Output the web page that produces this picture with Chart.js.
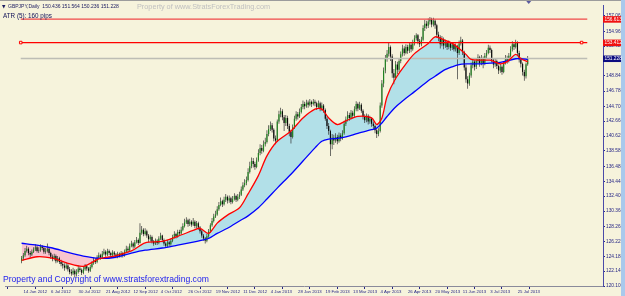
<!DOCTYPE html>
<html>
<head>
<meta charset="UTF-8">
<title>GBPJPY Daily</title>
<script src="https://cdn.jsdelivr.net/npm/chart.js@4.4.0/dist/chart.umd.min.js"></script>
<style>
  * { margin: 0; padding: 0; }
  body { background: #F6F3DC; width: 625px; height: 296px; overflow: hidden; }
  canvas { display: block; }
</style>
</head>
<body>
<canvas id="chart" width="625" height="296"></canvas>
<script>
// GBPJPY daily, one bar per trading day from 14 Jun 2012
const opens = [
  123.50,123.90,124.30,124.90,125.20,124.60,124.40,124.80,125.10,125.40,
  124.90,125.00,125.50,125.30,124.80,124.90,125.20,124.60,124.10,123.80,
  124.20,123.50,123.90,123.40,123.10,122.90,122.60,122.90,122.40,122.00,
  121.80,122.20,121.70,122.00,122.50,122.30,121.90,122.40,122.80,122.50,
  122.20,122.70,123.20,123.60,123.40,124.00,124.30,124.00,124.50,124.80,
  124.40,124.90,124.60,124.30,124.70,124.40,124.10,124.50,124.20,124.60,
  124.30,124.80,125.20,125.00,125.60,125.90,125.50,126.10,126.40,126.00,
  127.40,127.80,127.20,127.60,127.00,126.50,126.80,126.20,125.90,126.30,
  126.00,126.60,127.00,126.40,125.90,125.60,126.10,125.80,126.30,126.80,
  127.20,126.90,127.50,127.30,127.80,128.30,128.80,129.10,128.60,128.90,
  128.50,128.90,128.30,128.70,128.10,127.60,127.00,126.60,126.30,126.90,
  127.60,128.40,129.00,129.60,129.90,130.60,131.20,131.70,131.30,131.90,
  132.30,131.80,132.10,131.60,132.00,132.40,131.90,132.30,132.60,133.30,
  133.90,134.20,134.60,135.70,136.50,137.20,136.80,136.40,137.30,138.30,
  139.00,138.60,139.50,139.80,140.90,141.60,142.10,141.50,140.30,140.00,
  142.60,143.60,144.00,143.20,142.40,143.10,142.00,141.20,140.50,141.80,
  143.00,143.60,143.30,143.90,144.60,145.00,144.70,145.20,144.90,145.30,
  145.00,145.30,145.10,144.60,145.10,144.40,144.80,144.20,143.00,142.00,
  141.30,139.50,140.40,140.00,140.50,139.90,140.70,140.30,141.00,142.30,
  142.90,143.50,143.10,143.80,143.40,144.30,145.00,144.40,144.90,144.10,
  143.30,142.80,143.40,142.60,143.00,142.30,142.00,141.40,140.90,141.30,
  144.80,147.80,149.60,151.20,151.90,152.80,151.50,149.20,148.60,150.40,
  149.70,150.90,151.80,152.60,152.00,152.80,152.30,153.10,152.50,153.30,
  154.00,154.40,153.60,153.20,153.80,155.40,156.00,155.70,156.30,156.60,
  155.90,156.40,155.80,154.50,154.10,153.20,153.90,153.00,153.40,152.80,
  153.30,152.70,153.10,152.50,152.90,152.00,153.30,153.70,152.10,150.00,
  148.40,147.80,148.90,150.30,150.80,150.10,150.90,151.40,150.60,151.30,
  150.50,151.60,152.00,152.70,152.40,151.00,150.40,150.90,150.20,149.60,
  150.10,149.40,150.60,151.30,150.90,151.60,152.50,153.20,152.80,153.40,
  152.00,151.10,150.50,149.40,148.80,150.436
];
const highs = [
  124.20,124.60,125.30,125.60,125.40,124.90,125.10,125.40,125.80,125.60,
  125.40,125.80,125.70,125.50,125.30,125.90,125.40,124.80,124.40,124.50,
  124.40,124.20,124.10,123.70,123.40,123.20,123.30,123.10,122.70,122.40,
  122.60,122.40,122.40,122.90,122.80,122.50,122.70,123.10,123.00,122.70,
  123.00,123.50,124.00,123.90,124.30,124.70,124.50,124.90,125.20,125.00,
  125.20,125.10,124.80,125.00,124.90,124.60,124.80,124.70,124.90,124.80,
  125.10,125.60,125.50,125.90,126.30,126.10,126.40,126.80,126.60,128.70,
  128.30,128.00,128.00,127.80,127.20,127.10,127.00,126.40,126.60,126.50,
  126.90,127.40,127.10,126.60,126.10,126.40,126.30,126.60,127.10,127.60,
  127.40,127.80,127.80,128.20,128.70,129.30,129.50,129.30,129.30,129.10,
  129.40,129.10,129.00,128.90,128.30,127.80,127.20,126.80,127.20,127.90,
  128.70,129.40,130.00,130.40,131.00,131.60,132.20,131.90,132.30,132.70,
  132.50,132.50,132.30,132.40,132.80,132.60,132.70,133.00,133.70,134.30,
  134.70,135.10,136.20,137.10,137.70,137.60,137.10,137.70,138.80,139.50,
  139.40,140.00,140.40,141.40,142.10,142.60,142.40,141.70,140.70,142.90,
  144.10,144.50,144.30,143.50,143.50,143.40,142.30,141.50,142.20,143.40,
  144.00,143.90,144.40,145.00,145.50,145.30,145.60,145.50,145.70,145.50,
  145.70,145.60,145.30,145.50,145.30,145.20,145.00,144.40,143.30,142.40,
  141.50,140.90,140.80,141.00,140.80,141.10,141.00,141.40,142.70,143.30,
  144.00,143.80,144.20,144.10,144.70,145.40,145.20,145.30,145.10,144.30,
  143.60,143.70,143.60,143.40,143.20,142.60,142.20,141.60,141.70,145.20,
  148.30,150.00,151.70,152.40,153.50,153.00,151.80,149.80,150.90,150.80,
  151.30,152.20,153.10,152.90,153.20,153.10,153.50,153.40,153.80,154.40,
  154.70,154.60,153.90,154.20,155.80,156.50,156.40,156.70,156.90,156.80,
  156.80,156.60,156.00,154.90,154.40,154.30,154.10,153.80,153.60,153.70,
  153.50,153.50,153.30,153.30,153.10,153.70,154.20,153.90,152.30,150.40,
  148.80,149.30,150.70,151.20,151.00,151.30,151.80,151.60,151.70,151.50,
  152.00,152.40,153.10,153.00,152.60,151.20,151.30,151.10,150.40,150.50,
  150.30,150.90,151.70,151.60,152.00,152.90,153.60,153.50,153.80,153.60,
  152.30,151.40,150.70,149.70,150.70,151.564
];
const lows = [
  123.20,123.60,124.10,124.70,124.30,124.00,124.20,124.60,124.90,124.70,
  124.60,124.80,125.00,124.50,124.50,124.70,124.30,123.80,123.50,123.60,
  123.20,123.30,123.10,122.80,122.50,122.20,122.40,122.10,121.70,121.50,
  121.60,121.30,121.40,121.80,122.00,121.60,121.70,122.20,122.20,121.90,
  122.00,122.50,123.00,123.10,123.20,123.80,123.70,123.80,124.30,124.10,
  124.20,124.30,124.00,124.10,124.10,123.90,123.90,124.00,124.00,124.00,
  124.10,124.60,124.70,124.80,125.40,125.20,125.30,125.90,125.70,125.90,
  127.10,126.90,127.00,126.70,126.10,126.20,125.90,125.60,125.70,125.70,
  125.80,126.40,126.10,125.60,125.30,125.40,125.50,125.60,126.10,126.60,
  126.60,126.70,127.00,127.10,127.60,128.10,128.60,128.20,128.30,128.20,
  128.30,128.00,128.00,127.80,127.30,126.70,126.30,125.90,126.10,126.70,
  127.40,128.20,128.80,129.40,129.70,130.40,131.00,130.90,131.10,131.60,
  131.40,131.50,131.30,131.40,131.80,131.60,131.70,132.00,132.40,133.10,
  133.60,133.90,134.40,135.50,136.20,136.30,136.00,136.20,137.10,138.00,
  138.20,138.40,139.20,139.60,140.60,141.30,141.10,139.90,139.50,139.80,
  142.30,143.20,142.80,141.30,142.00,141.60,140.60,139.60,140.30,141.60,
  142.70,142.90,143.10,143.70,144.30,144.30,144.50,144.50,144.70,144.60,
  144.80,144.70,144.20,144.40,144.00,144.10,143.80,142.70,141.60,140.80,
  137.90,138.80,139.40,139.70,139.50,139.70,139.90,140.10,140.80,142.00,
  142.60,142.70,142.90,143.00,143.20,144.00,144.00,144.20,143.80,142.90,
  142.40,142.50,142.20,142.30,141.90,141.60,141.00,140.35,140.60,141.10,
  144.50,147.30,149.20,150.80,151.50,150.90,148.60,147.70,148.30,149.10,
  149.40,150.60,151.50,151.60,151.80,151.90,152.00,152.10,152.30,153.00,
  153.70,153.20,152.80,152.90,153.60,155.00,155.30,155.40,155.90,155.50,
  155.60,155.30,154.10,153.60,152.60,152.90,152.50,152.70,152.40,152.50,
  152.30,152.40,152.20,152.20,148.40,151.70,153.00,151.70,149.60,147.90,
  147.10,147.50,148.60,149.90,149.60,149.80,150.60,150.10,150.30,149.90,
  150.30,151.30,151.80,152.00,150.70,149.90,150.10,149.80,149.10,149.30,
  149.00,149.20,150.40,150.50,150.70,151.40,152.20,152.40,152.60,151.70,
  150.70,150.00,148.90,148.20,148.50,150.236
];
const closes = [
  123.90,124.30,124.90,125.20,124.60,124.40,124.80,125.10,125.40,124.90,
  125.00,125.50,125.30,124.80,124.90,125.20,124.60,124.10,123.80,124.20,
  123.50,123.90,123.40,123.10,122.90,122.60,122.90,122.40,122.00,121.80,
  122.20,121.70,122.00,122.50,122.30,121.90,122.40,122.80,122.50,122.20,
  122.70,123.20,123.60,123.40,124.00,124.30,124.00,124.50,124.80,124.40,
  124.90,124.60,124.30,124.70,124.40,124.10,124.50,124.20,124.60,124.30,
  124.80,125.20,125.00,125.60,125.90,125.50,126.10,126.40,126.00,127.40,
  127.80,127.20,127.60,127.00,126.50,126.80,126.20,125.90,126.30,126.00,
  126.60,127.00,126.40,125.90,125.60,126.10,125.80,126.30,126.80,127.20,
  126.90,127.50,127.30,127.80,128.30,128.80,129.10,128.60,128.90,128.50,
  128.90,128.30,128.70,128.10,127.60,127.00,126.60,126.30,126.90,127.60,
  128.40,129.00,129.60,129.90,130.60,131.20,131.70,131.30,131.90,132.30,
  131.80,132.10,131.60,132.00,132.40,131.90,132.30,132.60,133.30,133.90,
  134.20,134.60,135.70,136.50,137.20,136.80,136.40,137.30,138.30,139.00,
  138.60,139.50,139.80,140.90,141.60,142.10,141.50,140.30,140.00,142.60,
  143.60,144.00,143.20,142.40,143.10,142.00,141.20,140.50,141.80,143.00,
  143.60,143.30,143.90,144.60,145.00,144.70,145.20,144.90,145.30,145.00,
  145.30,145.10,144.60,145.10,144.40,144.80,144.20,143.00,142.00,141.30,
  139.50,140.40,140.00,140.50,139.90,140.70,140.30,141.00,142.30,142.90,
  143.50,143.10,143.80,143.40,144.30,145.00,144.40,144.90,144.10,143.30,
  142.80,143.40,142.60,143.00,142.30,142.00,141.40,140.90,141.30,144.80,
  147.80,149.60,151.20,151.90,152.80,151.50,149.20,148.60,150.40,149.70,
  150.90,151.80,152.60,152.00,152.80,152.30,153.10,152.50,153.30,154.00,
  154.40,153.60,153.20,153.80,155.40,156.00,155.70,156.30,156.60,155.90,
  156.40,155.80,154.50,154.10,153.20,153.90,153.00,153.40,152.80,153.30,
  152.70,153.10,152.50,152.90,152.00,153.30,153.70,152.10,150.00,148.40,
  147.80,148.90,150.30,150.80,150.10,150.90,151.40,150.60,151.30,150.50,
  151.60,152.00,152.70,152.40,151.00,150.40,150.90,150.20,149.60,150.10,
  149.40,150.60,151.30,150.90,151.60,152.50,153.20,152.80,153.40,152.00,
  151.10,150.50,149.40,148.80,150.436,151.228
];

// moving averages, read at these bar indices
const maIdx  = [0,9,18,27,36,45,54,64,72,82,91,100,104,109,114,120,127,132,138,143,149,157,164,171,175,179,184,189,196,204,207,210,213,218,224,229,237,241,246,251,255,259,262,268,273,279,283,288,291,295];
const redMA  = [123.6,124.1,123.9,123.2,122.8,123.8,124.2,124.9,126.0,126.2,126.9,127.7,128.0,127.3,128.7,129.8,130.8,132.7,135.2,137.9,139.9,141.3,143.1,144.3,144.3,143.1,142.2,142.7,143.3,143.1,142.2,143.1,146.0,148.5,150.5,151.9,153.3,154.2,153.8,153.3,152.6,151.8,151.1,151.0,151.0,150.5,150.8,151.8,151.2,150.8];
const blueMA = [125.95,125.7,125.3,124.7,124.2,123.9,124.0,124.6,125.0,125.3,125.7,126.1,126.3,126.6,127.3,128.0,129.0,129.7,130.8,132.0,133.5,135.4,137.2,139.0,139.9,140.2,140.3,140.5,141.0,141.5,141.7,142.4,143.3,144.6,145.8,146.7,148.2,148.8,149.6,150.1,150.4,150.5,150.5,150.5,150.6,150.7,150.9,151.2,151.2,151.1];

// horizontal levels and current bid
const levelTop = 156.613;
const levelMid = 153.412;
const bid = 151.228;

const dateLabels = ['14 Jun 2012','6 Jul 2012','30 Jul 2012','21 Aug 2012','12 Sep 2012','4 Oct 2012','26 Oct 2012','19 Nov 2012','11 Dec 2012','4 Jan 2013','28 Jan 2013','19 Feb 2013','13 Mar 2013','4 Apr 2013','26 Apr 2013','20 May 2013','11 Jun 2013','3 Jul 2013','25 Jul 2013'];
const priceTicks = [157.060,154.960,152.920,150.880,148.840,146.780,144.700,142.660,140.620,138.580,136.480,134.440,132.400,130.360,128.260,126.220,124.180,122.140,120.100];
const barsPerLabel = 16;

const header = 'GBPJPY,Daily  150.436 151.564 150.236 151.228';
const atrText = 'ATR (5): 160 pips';

// -------------------------------------------------------------------
const AXIS = '#262686';
const X_MAX = 329.7;
const SMALL = '"Liberation Sans Narrow", "Liberation Sans", Arial, sans-serif';

const wickData = closes.map((c, i) => ({ x: i, y: [lows[i], highs[i]] }));
const bodyData = closes.map((c, i) => ({ x: i, y: [opens[i], c] }));
const bodyColors = closes.map((c, i) => c >= opens[i] ? '#218421' : '#0a0a0a');
const redData = maIdx.map((x, k) => ({ x, y: redMA[k] }));
const blueData = maIdx.map((x, k) => ({ x, y: blueMA[k] }));
const hline = (v) => [{ x: -0.5, y: v }, { x: 326.4, y: v }, { x: X_MAX, y: v }];

const decor = {
  id: 'decor',
  afterDraw(chart) {
    const ctx = chart.ctx;
    const ys = chart.scales.y;
    const xs = chart.scales.x;
    ctx.save();

    // window borders
    ctx.fillStyle = '#9c9c9c';
    ctx.fillRect(0, 0, 625, 1);
    ctx.fillStyle = '#a9c9ec';
    ctx.fillRect(621, 0, 4, 296);

    // price boxes on the axis
    const box = (v, bg) => {
      const y = ys.getPixelForValue(v);
      ctx.fillStyle = bg;
      ctx.fillRect(603, y - 3, 18, 6.5);
      ctx.fillStyle = '#ffffff';
      ctx.font = '4.8px ' + SMALL;
      ctx.textBaseline = 'middle';
      ctx.textAlign = 'left';
      ctx.fillText(v.toFixed(3), 604.5, y + 0.3);
    };
    box(levelTop, '#f01010');
    box(levelMid, '#f01010');
    box(bid, '#0c0c80');

    // shift marker
    const mx = xs.getPixelForValue(295) + 1;
    ctx.fillStyle = '#5a5aa0';
    ctx.beginPath();
    ctx.moveTo(mx - 2.5, 1);
    ctx.lineTo(mx + 2.5, 1);
    ctx.lineTo(mx, 4);
    ctx.closePath();
    ctx.fill();

    // header line
    ctx.textBaseline = 'alphabetic';
    ctx.fillStyle = '#1a1a60';
    ctx.font = '4.5px "DejaVu Sans", sans-serif';
    ctx.fillText('\u25BC', 2, 7.5);
    ctx.font = '5px ' + SMALL;
    ctx.fillText(header, 8, 7.5);

    ctx.fillStyle = '#c0c0c0';
    ctx.font = '7.3px "Liberation Sans", Arial, sans-serif';
    ctx.fillText('Property of www.StratsForexTrading.com', 137, 8.5);

    ctx.fillStyle = '#101058';
    ctx.font = '6.3px "Liberation Sans", Arial, sans-serif';
    ctx.fillText(atrText, 3, 17.5);

    // copyright
    ctx.fillStyle = '#2222ee';
    ctx.font = '8.6px "Liberation Sans", Arial, sans-serif';
    ctx.fillText('Property and Copyright of www.stratsforextrading.com', 3, 282);

    ctx.restore();
  }
};

new Chart(document.getElementById('chart'), {
  data: {
    datasets: [
      {
        type: 'line', data: redData, borderColor: '#ff0000', borderWidth: 1.3,
        pointRadius: 0, tension: 0.3, order: 0,
        fill: { target: 1, above: '#b2e0e8', below: '#f9c4cf' }
      },
      {
        type: 'line', data: blueData, borderColor: '#0000ff', borderWidth: 1.3,
        pointRadius: 0, tension: 0.3, order: 0, fill: false
      },
      {
        type: 'line', data: hline(levelTop), borderColor: '#f04848', borderWidth: 1.3,
        pointRadius: 0, order: 1, fill: false
      },
      {
        type: 'line', data: hline(levelMid), borderColor: '#ff0000', borderWidth: 1.3,
        pointStyle: 'rect', pointRadius: [1.8, 1.8, 0], pointBorderColor: '#ff0000',
        pointBackgroundColor: '#f6f3dc', pointBorderWidth: 1, order: 1, fill: false
      },
      {
        type: 'line', data: hline(bid), borderColor: '#bdbdb5', borderWidth: 1.6,
        pointRadius: 0, order: 1, fill: false
      },
      {
        type: 'bar', data: bodyData, backgroundColor: bodyColors, barThickness: 1.2,
        grouped: false, borderWidth: 0, inflateAmount: 0, order: 2
      },
      {
        type: 'bar', data: wickData, backgroundColor: '#333333', barThickness: 0.7,
        grouped: false, borderWidth: 0, inflateAmount: 0, order: 3
      }
    ]
  },
  options: {
    responsive: false,
    devicePixelRatio: 1,
    animation: false,
    layout: { padding: { top: 3, left: 0, right: 0, bottom: 0 } },
    plugins: {
      legend: { display: false },
      tooltip: { enabled: false },
      filler: { drawTime: 'beforeDatasetsDraw' }
    },
    scales: {
      x: {
        type: 'linear',
        min: -0.5,
        max: X_MAX,
        afterBuildTicks: (s) => { s.ticks = dateLabels.map((d, k) => ({ value: k * barsPerLabel })); },
        afterFit: (s) => { s.height = 10; },
        ticks: {
          callback: (v, i) => dateLabels[i],
          autoSkip: false, maxRotation: 0, align: 'start', labelOffset: 2, padding: 0,
          color: AXIS, font: { family: SMALL, size: 4.3 }
        },
        grid: { display: true, drawOnChartArea: false, tickLength: 3, color: AXIS },
        border: { display: true, color: '#8a8a9a' }
      },
      y: {
        type: 'linear',
        position: 'right',
        min: 120.10,
        max: 158.555,
        afterBuildTicks: (s) => { s.ticks = priceTicks.map(v => ({ value: v })); },
        afterFit: (s) => { s.width = 22; },
        ticks: {
          callback: (v) => v.toFixed(3),
          padding: 1,
          color: AXIS, font: { family: SMALL, size: 4.8 }
        },
        grid: { display: true, drawOnChartArea: false, tickLength: 2, color: AXIS },
        border: { display: true, color: '#4a4aa8' }
      }
    }
  },
  plugins: [decor]
});
</script>
</body>
</html>
